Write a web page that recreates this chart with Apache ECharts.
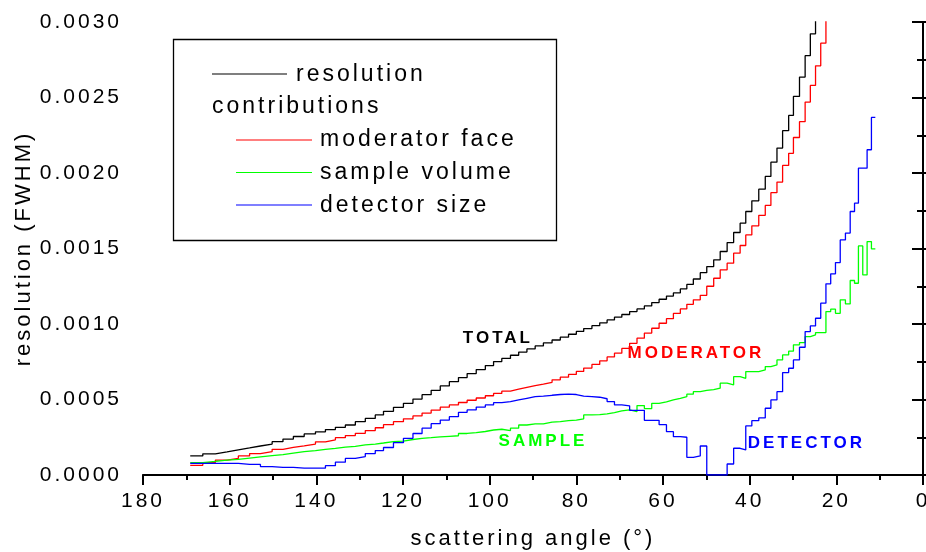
<!DOCTYPE html>
<html>
<head>
<meta charset="utf-8">
<title>resolution contributions</title>
<script src="https://cdn.jsdelivr.net/npm/echarts@6/dist/echarts.min.js"></script>
<style>
  html, body { margin: 0; padding: 0; background: #fff; }
  #chart { width: 926px; height: 552px; }
</style>
</head>
<body>
<div id="chart"></div>
<script>
// left edges of the angle bins (deg), last entry closes the last bin
var angleEdges = [169.1, 166.2, 163.3, 160.6, 158.0, 155.4, 152.9, 150.2, 147.7, 145.3,
  142.8, 140.2, 137.9, 135.6, 133.3, 131.0, 128.7, 126.4, 124.5, 122.2,
  119.9, 117.7, 115.6, 113.5, 111.4, 109.3, 107.2, 105.2, 103.1, 101.0,
  99.1, 97.2, 95.2, 93.3, 91.4, 89.5, 87.6, 85.6, 83.7, 81.8,
  80.0, 78.3, 76.4, 74.6, 72.9, 71.2, 69.5, 67.7, 66.0, 64.3,
  62.6, 60.9, 59.2, 57.6, 56.0, 54.5, 53.0, 51.4, 49.9, 48.3,
  46.8, 45.2, 43.7, 42.2, 40.9, 39.5, 37.9, 36.4, 35.1, 33.7,
  32.4, 31.0, 29.9, 28.5, 27.2, 26.0, 24.8, 23.6, 22.4, 21.3,
  20.2, 19.1, 17.9, 16.8, 15.8, 14.9, 13.9, 12.9, 11.9, 11.0];

// resolution values per bin, in units of 1e-4 (FWHM)
var total = [1.26, 1.40, 1.53, 1.66, 1.79, 1.92, 2.05, 2.21, 2.38, 2.55,
  2.72, 2.86, 3.01, 3.16, 3.31, 3.53, 3.75, 3.98, 4.22, 4.48,
  4.75, 5.03, 5.32, 5.61, 5.90, 6.18, 6.45, 6.72, 6.98, 7.25,
  7.51, 7.72, 7.93, 8.14, 8.35, 8.55, 8.75, 8.94, 9.13, 9.32,
  9.51, 9.70, 9.89, 10.08, 10.27, 10.45, 10.63, 10.82, 11.00, 11.20,
  11.42, 11.64, 11.85, 12.06, 12.32, 12.62, 12.98, 13.40, 13.80, 14.25,
  14.80, 15.39, 16.06, 16.68, 17.45, 18.16, 18.93, 19.77, 20.72, 21.65,
  22.80, 23.81, 25.07, 26.35, 27.77, 29.22, 31.50];

var moderator = [0.64, 0.82, 0.99, 1.10, 1.26, 1.42, 1.55, 1.70, 1.83, 1.93,
  2.05, 2.20, 2.33, 2.47, 2.61, 2.76, 2.94, 3.13, 3.33, 3.53,
  3.72, 3.91, 4.10, 4.30, 4.49, 4.64, 4.80, 4.95, 5.10, 5.25,
  5.40, 5.55, 5.68, 5.80, 5.92, 6.02, 6.14, 6.30, 6.48, 6.66,
  6.86, 7.08, 7.32, 7.56, 7.82, 8.07, 8.38, 8.72, 9.06, 9.40,
  9.72, 10.05, 10.35, 10.70, 11.00, 11.30, 11.60, 11.90, 12.50, 13.03,
  13.59, 14.03, 14.69, 15.20, 15.90, 16.50, 17.20, 17.85, 18.70, 19.40,
  20.50, 21.30, 22.35, 23.40, 24.70, 25.80, 27.10, 28.60, 31.50];

var sample = [0.82, 0.90, 0.98, 1.04, 1.12, 1.20, 1.28, 1.35, 1.45, 1.55,
  1.62, 1.70, 1.77, 1.85, 1.90, 1.99, 2.05, 2.12, 2.21, 2.25,
  2.35, 2.43, 2.47, 2.52, 2.56, 2.60, 2.75, 2.80, 2.88, 2.98,
  3.03, 2.94, 3.10, 3.31, 3.38, 3.38, 3.50, 3.53, 3.60, 3.64,
  3.72, 3.98, 4.00, 4.05, 4.13, 4.25, 4.31, 4.20, 4.60, 4.40,
  4.75, 4.85, 4.97, 5.08, 5.19, 5.35, 5.52, 5.60, 5.65, 5.75,
  6.08, 5.97, 6.51, 6.40, 6.85, 6.85, 6.96, 7.18, 7.29, 7.62,
  7.95, 8.20, 8.62, 8.77, 9.17, 9.28, 9.43, 9.43, 10.82, 10.98,
  10.71, 11.60, 11.33, 12.88, 12.70, 15.17, 13.25, 15.46, 14.98];

var detector = [0.77, 0.77, 0.77, 0.77, 0.70, 0.70, 0.56, 0.51, 0.51, 0.45,
  0.45, 0.45, 0.62, 0.85, 1.10, 1.22, 1.42, 1.62, 1.82, 2.14,
  2.43, 2.75, 3.10, 3.40, 3.64, 3.86, 4.15, 4.31, 4.50, 4.64,
  4.79, 4.86, 4.97, 5.08, 5.19, 5.22, 5.28, 5.33, 5.35, 5.33,
  5.22, 5.19, 5.15, 5.05, 4.86, 4.64, 4.58, 4.28, 4.28, 3.62,
  3.62, 3.33, 2.87, 2.54, 2.50, 1.17, 1.26, 1.92, 0.00, 0.00,
  0.00, 0.73, 1.77, 1.66, 3.25, 3.60, 3.78, 4.42, 4.97, 5.52,
  6.78, 7.07, 7.62, 8.46, 9.50, 9.87, 10.38, 11.38, 12.66, 13.32,
  14.07, 15.57, 16.02, 17.45, 18.00, 20.32, 20.32, 21.54, 23.68];

// curve annotations: [angle, value(1e-4)]
var tags = [
  { text: 'TOTAL', at: [98.1, 9.08], color: '#000000' },
  { text: 'MODERATOR', at: [52.4, 8.06], color: '#ff0000' },
  { text: 'SAMPLE', at: [87.7, 2.21], color: '#00ff00' },
  { text: 'DETECTOR', at: [26.9, 2.10], color: '#0000ff' }
];

var FONT = '"Liberation Sans", Arial, sans-serif';

function steps(vals) {
  var d = vals.map(function (v, i) { return [angleEdges[i], v]; });
  d.push([angleEdges[vals.length], vals[vals.length - 1]]);
  return d;
}

function stepLine(name, vals, color) {
  return {
    name: name,
    type: 'line',
    step: 'end',
    data: steps(vals),
    symbol: 'none',
    silent: true,
    lineStyle: { color: color, width: 1.3 },
    z: 3
  };
}

var chart = echarts.init(document.getElementById('chart'));

var option = {
  animation: false,
  backgroundColor: '#ffffff',
  grid: { left: 143, right: 3, top: 22, bottom: 77, outerBoundsMode: 'none' },
  xAxis: [{
    type: 'value',
    min: 0, max: 180, interval: 20,
    inverse: true,
    name: 'scattering angle (°)',
    nameLocation: 'middle',
    nameGap: 53,
    nameTextStyle: { fontSize: 22, fontFamily: FONT, color: '#000' },
    axisLine: { lineStyle: { color: '#000', width: 2 } },
    axisTick: { length: 10, lineStyle: { color: '#000', width: 2 } },
    minorTick: { show: true, splitNumber: 2, length: 5, lineStyle: { color: '#000', width: 2 } },
    splitLine: { show: false },
    axisLabel: { fontSize: 21, fontFamily: FONT, color: '#000', margin: 16 }
  }, {
    type: 'value',
    position: 'top',
    min: 0, max: 180, interval: 20,
    inverse: true,
    axisLine: { lineStyle: { color: '#000', width: 1.5 } },
    axisTick: { inside: true, length: 3, lineStyle: { color: '#000', width: 1.5 } },
    minorTick: { show: true, splitNumber: 2, length: 2, lineStyle: { color: '#000', width: 1.5 } },
    splitLine: { show: false },
    axisLabel: { show: false }
  }],
  yAxis: [{
    type: 'value',
    min: 0, max: 30, interval: 5,
    name: 'resolution (FWHM)',
    nameLocation: 'middle',
    nameGap: 108,
    nameTextStyle: { fontSize: 22, fontFamily: FONT, color: '#000' },
    axisLine: { show: true, lineStyle: { color: '#000', width: 2 } },
    axisTick: { show: true, length: 11, lineStyle: { color: '#000', width: 2 } },
    minorTick: { show: true, splitNumber: 2, length: 6, lineStyle: { color: '#000', width: 2 } },
    splitLine: { show: false },
    axisLabel: {
      fontSize: 21, fontFamily: FONT, color: '#000', margin: 21,
      formatter: function (v) { return (v / 10000).toFixed(4); }
    }
  }, {
    type: 'value',
    position: 'right',
    min: 0, max: 30, interval: 5,
    axisLine: { show: true, lineStyle: { color: '#000', width: 2 } },
    axisTick: { show: true, length: 3, lineStyle: { color: '#000', width: 2 } },
    minorTick: { show: true, splitNumber: 2, length: 3, lineStyle: { color: '#000', width: 2 } },
    splitLine: { show: false },
    axisLabel: { show: false }
  }],
  series: [
    stepLine('resolution', total, '#000000'),
    stepLine('moderator face', moderator, '#ff0000'),
    stepLine('sample volume', sample, '#00ff00'),
    stepLine('detector size', detector, '#0000ff'),
    {
      type: 'scatter',
      silent: true,
      symbolSize: 0,
      itemStyle: { color: 'rgba(0,0,0,0)', opacity: 1 },
      data: tags.map(function (t) {
        return {
          value: t.at,
          label: {
            show: true, position: 'inside', formatter: t.text, opacity: 1,
            color: t.color, fontSize: 17, fontWeight: 'bold', fontFamily: FONT,
            textBorderWidth: 0
          }
        };
      }),
      z: 5
    }
  ],
  graphic: [
    { type: 'rect', z: 10, shape: { x: 173.5, y: 39.5, width: 383, height: 201 },
      style: { fill: '#fff', stroke: '#000', lineWidth: 1.3 } },
    { type: 'line', z: 11, shape: { x1: 212, y1: 74, x2: 287, y2: 74 }, style: { stroke: '#000', lineWidth: 1.2 } },
    { type: 'line', z: 11, shape: { x1: 236, y1: 140, x2: 312, y2: 140 }, style: { stroke: '#ff0000', lineWidth: 1.2 } },
    { type: 'line', z: 11, shape: { x1: 236, y1: 172.5, x2: 312, y2: 172.5 }, style: { stroke: '#00ff00', lineWidth: 1.2 } },
    { type: 'line', z: 11, shape: { x1: 236, y1: 205, x2: 312, y2: 205 }, style: { stroke: '#0000ff', lineWidth: 1.2 } },
    { type: 'text', z: 11, style: { text: 'resolution', x: 296, y: 74.5, fontSize: 23, fontFamily: FONT, fill: '#000', verticalAlign: 'middle' } },
    { type: 'text', z: 11, style: { text: 'contributions', x: 212, y: 107, fontSize: 23, fontFamily: FONT, fill: '#000', verticalAlign: 'middle' } },
    { type: 'text', z: 11, style: { text: 'moderator face', x: 320, y: 139.7, fontSize: 23, fontFamily: FONT, fill: '#000', verticalAlign: 'middle' } },
    { type: 'text', z: 11, style: { text: 'sample volume', x: 320, y: 172.3, fontSize: 23, fontFamily: FONT, fill: '#000', verticalAlign: 'middle' } },
    { type: 'text', z: 11, style: { text: 'detector size', x: 320, y: 205.3, fontSize: 23, fontFamily: FONT, fill: '#000', verticalAlign: 'middle' } }
  ]
};

chart.setOption(option);

// the original figure uses wide letter spacing on all its text;
// zrender has no option for it, so set it on the canvas and redraw
document.querySelectorAll('#chart canvas').forEach(function (c) {
  c.getContext('2d').letterSpacing = '3px';
});
chart.clear();
chart.setOption(option);
</script>
</body>
</html>
